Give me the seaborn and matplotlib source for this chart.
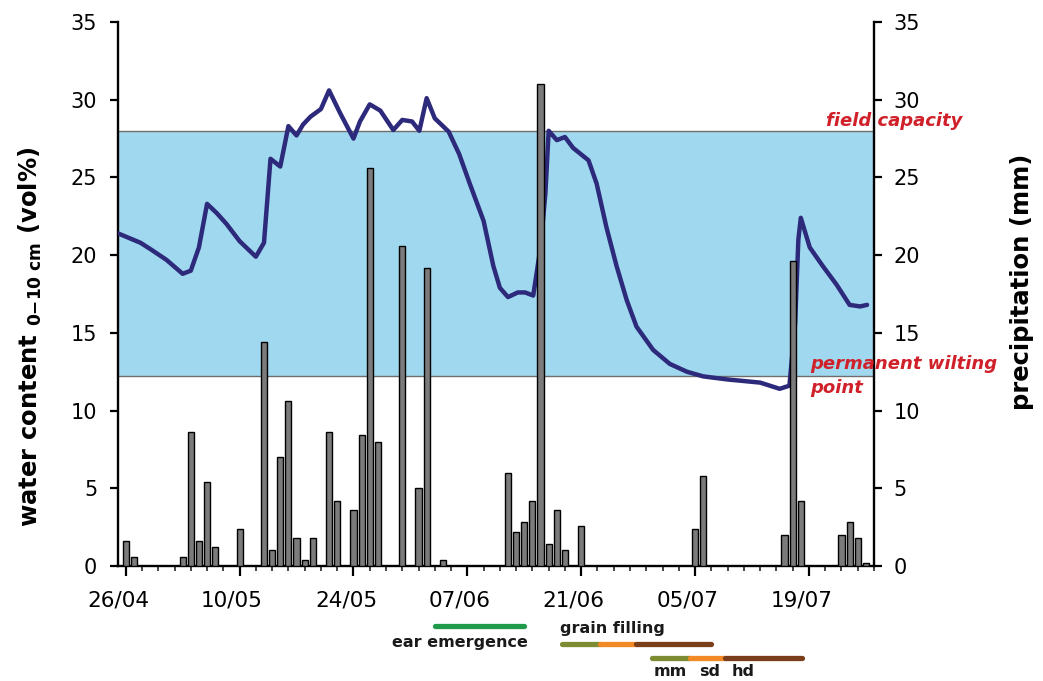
import numpy as np
import pandas as pd
import matplotlib
matplotlib.use("Agg")
import matplotlib.pyplot as plt
import matplotlib.transforms as mtransforms
import seaborn as sns

# ---------------- data ----------------
# day index: 0 = 26/04
tick_days = [0, 14, 28, 42, 56, 70, 84]
tick_labels = ["26/04", "10/05", "24/05", "07/06", "21/06", "05/07", "19/07"]

rain_day = [0, 1, 7, 8, 9, 10, 11, 14, 17, 18, 19, 20, 21, 22, 23, 25, 26, 28, 29, 30, 31,
            34, 36, 37, 39, 47, 48, 49, 50, 51, 52, 53, 54, 56, 70, 71, 81, 82, 83, 88, 89, 90, 91]
rain_mm = [1.6, 0.6, 0.6, 8.6, 1.6, 5.4, 1.2, 2.4, 14.4, 1.0, 7.0, 10.6, 1.8, 0.4, 1.8, 8.6, 4.2,
           3.6, 8.4, 25.6, 8.0, 20.6, 5.0, 19.2, 0.4, 6.0, 2.2, 2.8, 4.2, 31.0, 1.4, 3.6, 1.0, 2.6,
           2.4, 5.8, 2.0, 19.6, 4.2, 2.0, 2.8, 1.8, 0.2]

wc_day = [-0.95, 1.8, 3, 5, 7, 8, 9, 10, 11.2, 12.4, 14, 15, 16, 17, 17.8, 19, 20, 21, 21.8, 22.7,
          24, 25, 26.3, 28, 28.8, 30, 31.3, 32.9, 34, 35.2, 36.1, 37, 38, 39.7, 41, 42.3, 44,
          45.2, 46, 47, 48.2, 49.1, 50.1, 51, 51.6, 52, 53, 54, 55, 56.9, 57.9, 59.1, 60.35,
          61.6, 62.8, 64.85, 66.9, 69, 71, 74, 78, 80.4, 81.6, 82.3, 82.7, 83, 84.1, 85.7,
          87.4, 89, 90.3, 91.15]
wc_val = [21.4, 20.8, 20.4, 19.7, 18.8, 19.0, 20.5, 23.3, 22.7, 22.0, 20.9, 20.4, 19.9, 20.8,
          26.2, 25.7, 28.3, 27.7, 28.4, 28.9, 29.4, 30.6, 29.2, 27.5, 28.6, 29.7, 29.3, 28.05,
          28.7, 28.6, 28.0, 30.1, 28.8, 27.95, 26.5, 24.6, 22.2, 19.3, 17.9, 17.3, 17.6, 17.6,
          17.4, 20.5, 24.0, 28.0, 27.4, 27.6, 26.9, 26.1, 24.6, 21.8, 19.3, 17.1, 15.4, 13.9,
          13.0, 12.5, 12.2, 12.0, 11.8, 11.4, 11.6, 15.6, 21.0, 22.4, 20.5, 19.3, 18.1, 16.8,
          16.7, 16.8]

field_capacity = 28.0
wilting_point = 12.2

# phenology (day index)
ear_emergence = [38.0, 49.0]
grain_row1 = [53.6, 58.3, 62.7, 72.0]   # mm | sd | hd boundaries
grain_row2 = [64.65, 69.4, 73.7, 83.1]
phase_names = ["mm", "sd", "hd"]

# ---------------- style ----------------
sns.set_style("white")
plt.rcParams["font.family"] = ["DejaVu Sans"]
plt.rcParams["text.color"] = "black"

W, H = 1043, 681
fig = plt.figure(figsize=(W / 100, H / 100), dpi=100)
L, R, B, T = 118 / W, 874 / W, 1 - 566 / H, 1 - 22 / H
ax = fig.add_axes([L, B, R - L, T - B])
ax2 = ax.twinx()

band_col = "#a0d9ef"
line_col = "#2d2a7c"
red = "#d0202a"

# band
ax.axhspan(wilting_point, field_capacity, color=band_col, zorder=0, lw=0)
ax.axhline(field_capacity, color="#6e6e6e", lw=1.0, zorder=1)
ax.axhline(wilting_point, color="#6e6e6e", lw=1.0, zorder=1)

# water content line
df_wc = pd.DataFrame({"day": wc_day, "wc": wc_val})
sns.lineplot(data=df_wc, x="day", y="wc", ax=ax, color=line_col, lw=3.2, zorder=3,
             solid_capstyle="round", solid_joinstyle="round")

# precipitation bars
df_r = pd.DataFrame({"day": rain_day, "mm": rain_mm})
sns.barplot(data=df_r, x="day", y="mm", ax=ax2, native_scale=True, width=0.75,
            color="#7b7b7b", saturation=1, edgecolor="black", linewidth=1.0, zorder=4)

for a in (ax, ax2):
    a.set_xlim(-0.95, 92.0)
    a.set_ylim(0, 35)
    a.set_yticks(np.arange(0, 36, 5))
    a.set_xlabel("")
    a.set_ylabel("")
    for s in a.spines.values():
        s.set_linewidth(1.7)
        s.set_color("black")
    a.spines["top"].set_visible(False)

ax.spines["right"].set_visible(False)
ax2.spines["left"].set_visible(False)
ax2.spines["bottom"].set_visible(False)

ax.set_xticks(tick_days)
ax.set_xticklabels(tick_labels)
ax.set_xticks(np.arange(0, 93, 2), minor=True)
ax.tick_params(axis="x", which="major", direction="out", length=7, width=1.6, pad=11,
               labelsize=15.5, colors="black", bottom=True, labelbottom=True)
ax.tick_params(axis="x", which="minor", direction="out", length=3.5, width=1.2, bottom=True)
ax.tick_params(axis="y", which="major", direction="out", length=6, width=1.6, pad=9,
               labelsize=15, colors="black", left=True)
ax2.tick_params(axis="y", which="major", direction="out", length=6, width=1.6, pad=8,
                labelsize=15, colors="black", right=True)

offset = mtransforms.ScaledTranslation(-7.5 / 100, 0, fig.dpi_scale_trans)
for lbl in ax.get_xticklabels():
    lbl.set_transform(lbl.get_transform() + offset)

# axis titles
fig.text(30 / W, 1 - 337 / H, r"water content $_{\mathbf{0{-}10\ cm}}$ (vol%)",
         rotation=90, ha="center", va="center", fontsize=17.5, fontweight="bold",
         color="black")
fig.text(1022 / W, 1 - 282 / H, "precipitation (mm)", rotation=90, ha="center",
         va="center", fontsize=17.5, fontweight="bold", color="black")

# annotations
ann = dict(color=red, fontsize=13, fontweight="bold", style="italic", ha="left",
           va="center", transform=fig.transFigure)
fig.text(826 / W, 1 - 121 / H, "field capacity", **ann)
fig.text(810 / W, 1 - 364 / H, "permanent wilting", **ann)
fig.text(810 / W, 1 - 388 / H, "point", **ann)

# phenology bars below the axis
bt = mtransforms.blended_transform_factory(ax.transData, fig.transFigure)
lw_ph = 3.8
ax.plot(ear_emergence, [1 - 626 / H] * 2, color="#1e9a4a", lw=lw_ph, transform=bt,
        clip_on=False, solid_capstyle="round")
ph_cols = ["#7d8c32", "#f18a24", "#7b3e1b"]
for row, yy in ((grain_row1, 644.3), (grain_row2, 658.3)):
    for i in range(3):
        ax.plot([row[i], row[i + 1]], [1 - yy / H] * 2, color=ph_cols[i], lw=lw_ph,
                transform=bt, clip_on=False, solid_capstyle="round")

ptxt = dict(fontsize=11.5, fontweight="bold", color="#1a1a1a", transform=bt, va="center")
ax.text(41.1, 1 - 643 / H, "ear emergence", ha="center", **ptxt)
ax.text(53.4, 1 - 628 / H, "grain filling", ha="left", **ptxt)
for name, xd in zip(phase_names, [67.0, 71.8, 75.9]):
    ax.text(xd, 1 - 671.7 / H, name, ha="center", **ptxt)

fig.savefig("out.png", dpi=100)
